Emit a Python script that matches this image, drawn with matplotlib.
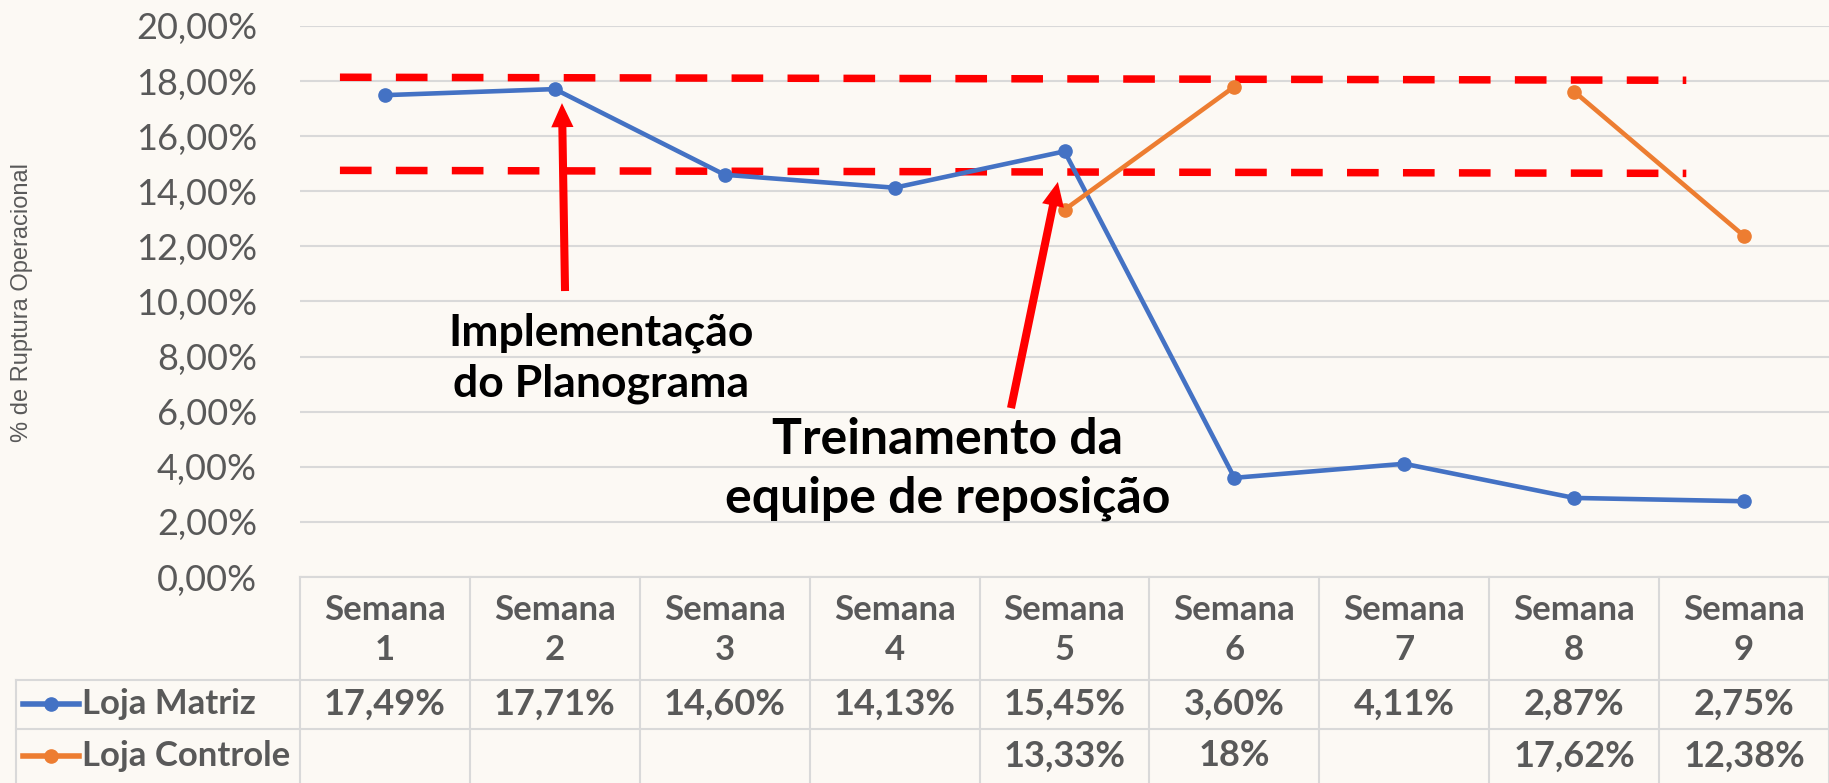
import matplotlib.pyplot as plt
import numpy as np
from matplotlib.transforms import blended_transform_factory
from matplotlib.ticker import FuncFormatter

# =============================================================================
# Data
# =============================================================================
weeks = [f"Semana\n{i}" for i in range(1, 10)]
matriz = [17.49, 17.71, 14.60, 14.13, 15.45, 3.60, 4.11, 2.87, 2.75]
controle = [np.nan, np.nan, np.nan, np.nan, 13.33, 17.80, np.nan, 17.62, 12.38]
controle_labels = ["", "", "", "", "13,33%", "18%", "", "17,62%", "12,38%"]
yticks = [0, 2, 4, 6, 8, 10, 12, 14, 16, 18, 20]

# hand-drawn red dashed bands (start / end of each line)
band_x = [-0.265, 7.66]
band_upper = [18.14, 18.03]
band_lower = [14.76, 14.65]

# =============================================================================
# Style
# =============================================================================
BLUE = '#4472C4'
ORANGE = '#ED7D31'
RED = '#FF0000'
TEXT = '#595959'
GRID = '#D9D9D9'
BG = '#FCF9F4'
FONT = 'Lato'

W, H = 1829, 783
fig = plt.figure(figsize=(W / 100, H / 100), dpi=100)
fig.patch.set_facecolor(BG)

# plot area in pixels: x 300..1829, y 26..577
ax = fig.add_axes([300 / W, (H - 577) / H, 1529 / W, 551 / H])
ax.set_facecolor(BG)
ax.set_xlim(-0.5, 8.5)
ax.set_ylim(0, 20)
for s in ax.spines.values():
    s.set_visible(False)

ax.set_yticks(yticks)
ax.yaxis.set_major_formatter(FuncFormatter(lambda v, p: f"{v:.2f}%".replace('.', ',')))
ax.tick_params(axis='y', length=0, pad=31, labelsize=26, labelcolor=TEXT)
for lab in ax.get_yticklabels():
    lab.set_fontfamily(FONT)
ax.set_xticks([])
ax.grid(axis='y', color=GRID, lw=1.5)
ax.set_axisbelow(True)

fig.text(22 / W, (H - 302) / H, "% de Ruptura Operacional", rotation=90,
         ha='center', va='center', fontsize=17, color=TEXT,
         fontfamily='Liberation Sans')

x = np.arange(len(weeks))
ax.plot(x, matriz, color=BLUE, lw=3.3, marker='o', ms=9.5, zorder=4)
ax.plot(x, controle, color=ORANGE, lw=3.3, marker='o', ms=9.5, zorder=4)

# red dashed bands
dash = dict(color=RED, lw=5.4, dashes=(4.22, 3.24), solid_capstyle='butt',
            dash_capstyle='butt', zorder=3)
ax.plot(band_x, band_upper, **dash)
ax.plot(band_x, band_lower, **dash)

# annotations
arrow = dict(arrowstyle='simple,head_length=1.73,head_width=1.6,tail_width=0.58',
             fc=RED, ec='none', lw=0, mutation_scale=10, shrinkA=0, shrinkB=0)
ax.annotate("", xy=(1.042, 17.2), xytext=(1.06, 10.38), arrowprops=arrow, zorder=5)
ax.annotate("", xy=(3.961, 14.34), xytext=(3.685, 6.13), arrowprops=arrow, zorder=5)
ax.text(1.27, 7.95, "Implementação\ndo Planograma", ha='center', va='center',
        fontsize=32, fontweight='bold', color='black', fontfamily=FONT,
        linespacing=1.32)
ax.text(3.31, 3.92, "Treinamento da\nequipe de reposição", ha='center', va='center',
        fontsize=36, fontweight='bold', color='black', fontfamily=FONT,
        linespacing=1.38)

# =============================================================================
# Data table under the plot
# =============================================================================
tcol = blended_transform_factory(ax.transData, ax.transAxes)
tfig = blended_transform_factory(fig.transFigure, ax.transAxes)


def yfrac(ypx):
    return (577 - ypx) / 551


y_head, y_r1, y_bot = yfrac(680), yfrac(729), yfrac(783)
left_fig = 16 / W

# grid of the table
ax.plot([-0.5, 8.5], [0, 0], color=GRID, lw=1.5, transform=tcol, clip_on=False)
for k in range(10):
    ax.plot([k - 0.5, k - 0.5], [0, y_bot], color=GRID, lw=1.5, transform=tcol,
            clip_on=False)
for yy in (y_head, y_r1):
    ax.plot([left_fig, 1], [yy, yy], color=GRID, lw=1.5, transform=tfig, clip_on=False)
ax.plot([left_fig, left_fig], [y_head, y_bot], color=GRID, lw=1.5, transform=tfig,
        clip_on=False)

cell = dict(ha='center', va='center', color=TEXT, fontweight='bold', fontfamily=FONT,
            transform=tcol, clip_on=False)
for i, w in enumerate(weeks):
    ax.text(i, yfrac(630), w, fontsize=25, linespacing=1.3, **cell)
    ax.text(i, yfrac(704), f"{matriz[i]:.2f}%".replace('.', ','), fontsize=26, **cell)
    ax.text(i, yfrac(756), controle_labels[i], fontsize=26, **cell)

# legend keys
for ypx, col, name in ((704, BLUE, "Loja Matriz"), (756, ORANGE, "Loja Controle")):
    yy = yfrac(ypx)
    ax.plot([23 / W, 79 / W], [yy, yy], color=col, lw=4, transform=tfig, clip_on=False)
    ax.plot([51 / W], [yy], color=col, marker='o', ms=9.5, transform=tfig, clip_on=False)
    ax.text(82 / W, yy, name, ha='left', va='center', color=TEXT, fontsize=25,
            fontweight='bold', fontfamily=FONT, transform=tfig, clip_on=False)

fig.savefig("out.png", dpi=100, facecolor=BG)
